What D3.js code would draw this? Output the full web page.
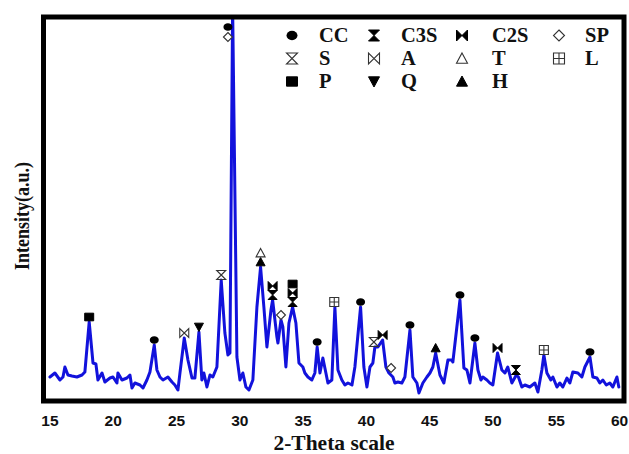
<!DOCTYPE html>
<html>
<head>
<meta charset="utf-8">
<script src="https://cdn.jsdelivr.net/npm/d3@7/dist/d3.min.js"></script>
<style>
  body { margin: 0; background: #fff; }
  svg { display: block; }
</style>
</head>
<body>
<svg id="chart" width="629" height="454"></svg>
<script>
// XRD scan: 2θ (degrees) and intensity (a.u.)
const twoTheta = [
  15.04, 15.43, 15.83, 16.07, 16.22, 16.46, 16.78, 17.17, 17.57, 17.80,
  18.14, 18.44, 18.67, 18.83, 19.15, 19.38, 19.78, 20.02, 20.33, 20.41,
  20.73, 21.12, 21.36, 21.52, 21.75, 22.15, 22.39, 22.70, 22.94, 23.28,
  23.49, 23.73, 23.97, 24.36, 24.68, 24.91, 25.15, 25.31, 25.65, 25.94,
  26.26, 26.49, 26.81, 27.04, 27.20, 27.44, 27.68, 27.91, 28.23, 28.57,
  28.86, 29.10, 29.26, 29.47, 29.81, 30.05, 30.28, 30.52, 30.76, 31.07,
  31.39, 31.68, 31.94, 32.18, 32.50, 32.63, 32.97, 33.05, 33.29, 33.44,
  33.68, 33.92, 34.21, 34.47, 34.71, 35.02, 35.18, 35.42, 35.73, 35.97,
  36.15, 36.37, 36.60, 36.84, 37.00, 37.31, 37.55, 37.79, 38.10, 38.34,
  38.58, 38.90, 39.13, 39.58, 39.84, 40.08, 40.32, 40.55, 40.71, 40.95,
  41.32, 41.58, 41.82, 42.13, 42.29, 42.53, 42.84, 43.08, 43.48, 43.71,
  44.03, 44.19, 44.50, 44.82, 45.06, 45.29, 45.51, 45.85, 46.16, 46.48,
  46.79, 46.87, 47.43, 47.74, 47.98, 48.22, 48.61, 48.85, 49.09, 49.24,
  49.56, 49.79, 50.03, 50.40, 50.74, 50.98, 51.21, 51.53, 51.88, 52.05,
  52.32, 52.56, 52.95, 53.35, 53.59, 53.90, 54.06, 54.30, 54.61, 54.77,
  55.09, 55.32, 55.56, 55.88, 56.11, 56.35, 56.75, 57.06, 57.30, 57.70,
  57.93, 58.25, 58.48, 58.72, 58.99, 59.27, 59.51, 59.83, 59.98
];
const intensity = [
  24, 28, 21, 24, 34, 26, 25, 24, 26, 29,
  79, 38, 37, 21, 28, 19, 23, 24, 18, 28,
  21, 23, 26, 13, 18, 16, 13, 21, 29, 56,
  31, 24, 21, 24, 19, 16, 11, 28, 63, 41,
  23, 23, 69, 21, 28, 14, 26, 24, 34, 121,
  68, 46, 48, 395, 44, 21, 28, 14, 11, 21,
  94, 134, 94, 54, 91, 101, 64, 58, 81, 74,
  34, 78, 94, 78, 38, 34, 28, 24, 21, 28,
  54, 28, 43, 28, 18, 21, 94, 31, 21, 16,
  18, 16, 34, 94, 34, 14, 34, 38, 54, 54,
  61, 34, 28, 24, 18, 19, 18, 24, 71, 24,
  18, 8, 18, 24, 28, 34, 48, 26, 18, 41,
  41, 39, 101, 33, 31, 18, 58, 31, 21, 24,
  21, 18, 16, 48, 31, 28, 34, 18, 26, 24,
  14, 16, 14, 18, 9, 31, 46, 28, 21, 24,
  14, 18, 14, 23, 18, 29, 28, 24, 34, 44,
  24, 23, 18, 21, 16, 18, 14, 24, 14
];
const xTicks = [15, 20, 25, 30, 35, 40, 45, 50, 55, 60];

// Phase legend, read row by row
const phases = ["CC", "C3S", "C2S", "SP", "S", "A", "T", "L", "P", "Q", "H"];

// Peak assignments: phase, 2θ of the reflection, stacking level above the peak
const peakPhase = ["P", "CC", "A", "Q", "S", "CC", "SP", "H", "T", "C3S", "C2S", "SP",
  "C3S", "C2S", "P", "CC", "L", "CC", "S", "C2S", "SP", "CC", "H", "CC", "CC",
  "C2S", "C3S", "L", "CC"];
const peakTheta = [18.14, 23.28, 25.65, 26.81, 28.57, 29.10, 29.10, 31.68, 31.68, 32.63, 32.63, 33.29,
  34.21, 34.21, 34.21, 36.15, 37.50, 39.58, 40.63, 41.32, 41.99, 43.48, 45.51, 47.43, 48.61,
  50.40, 51.85, 54.06, 57.70];
const peakLevel = [0, 0, 0, 0, 0, 0, 0, 0, 1, 0, 1, 0,
  0, 1, 2, 0, 0, 0, 0, 0, 0, 0, 0, 0, 0,
  0, 0, 0, 0];
// Labels for the off-scale main reflection sit beside it at a fixed height
const peakLabelHeight = [null, null, null, null, null, 374, 364, null, null, null, null, null,
  null, null, null, null, null, null, null, null, null, null, null, null, null,
  null, null, null, null];

const plot = { left: 43.5, right: 624, top: 17, bottom: 401 };

const svg = d3.select("#chart");

const x = d3.scaleLinear().domain([14.53, 60.39]).range([plot.left, plot.right]);
const y = d3.scaleLinear().domain([0, 384]).range([plot.bottom, plot.top]);

svg.append("defs").append("clipPath").attr("id", "plotClip")
  .append("rect")
  .attr("x", plot.left).attr("y", plot.top)
  .attr("width", plot.right - plot.left).attr("height", plot.bottom - plot.top);

// Diffraction pattern
const points = twoTheta.map((t, i) => [t, intensity[i]]);
svg.append("path")
  .datum(points)
  .attr("clip-path", "url(#plotClip)")
  .attr("fill", "none")
  .attr("stroke", "#1212dc")
  .attr("stroke-width", 3)
  .attr("stroke-linejoin", "round")
  .attr("stroke-linecap", "round")
  .attr("d", d3.line().x(d => x(d[0])).y(d => y(d[1])));

// Symbol shapes for each phase (s = half size)
function symbolPath(phase, s) {
  const p = d3.path();
  switch (phase) {
    case "C3S": // filled hourglass
    case "S":   // open hourglass
      p.moveTo(-s, -s); p.lineTo(s, -s); p.lineTo(-s, s); p.lineTo(s, s); p.closePath();
      break;
    case "C2S": // filled bow-tie
    case "A":   // open bow-tie
      p.moveTo(-s, -s); p.lineTo(-s, s); p.lineTo(s, -s); p.lineTo(s, s); p.closePath();
      break;
    case "SP":
      p.moveTo(0, -s); p.lineTo(s, 0); p.lineTo(0, s); p.lineTo(-s, 0); p.closePath();
      break;
    case "T":
    case "H":
      p.moveTo(0, -s); p.lineTo(s, s * 0.85); p.lineTo(-s, s * 0.85); p.closePath();
      break;
    case "Q":
      p.moveTo(-s, -s * 0.85); p.lineTo(s, -s * 0.85); p.lineTo(0, s); p.closePath();
      break;
    case "L":
      p.rect(-s, -s, 2 * s, 2 * s);
      p.moveTo(0, -s); p.lineTo(0, s); p.moveTo(-s, 0); p.lineTo(s, 0);
      break;
    case "P":
      p.rect(-s, -s * 0.85, 2 * s, 1.7 * s);
      break;
  }
  return p.toString();
}
const filled = new Set(["CC", "C3S", "C2S", "P", "Q", "H"]);

function drawSymbol(g, phase, s) {
  if (phase === "CC") {
    g.append("ellipse").attr("rx", s).attr("ry", s * 0.85).attr("fill", "#000");
    return;
  }
  const path = g.append("path").attr("d", symbolPath(phase, s));
  if (filled.has(phase)) {
    path.attr("fill", "#000").attr("stroke", "#000").attr("stroke-width", 1)
      .attr("stroke-linejoin", "miter");
  } else {
    path.attr("fill", phase === "L" || phase === "SP" || phase === "T" ? "#fff" : "none")
      .attr("stroke", "#333").attr("stroke-width", 1.1);
  }
}

// Local maximum of the pattern near a reflection
function peakTop(theta) {
  let best = 0;
  twoTheta.forEach((t, i) => {
    if (Math.abs(t - theta) <= 0.2 && intensity[i] > best) best = intensity[i];
  });
  return best;
}

const markers = svg.append("g");
peakPhase.forEach((ph, i) => {
  const cx = x(peakTheta[i]);
  const cy = peakLabelHeight[i] !== null
    ? y(peakLabelHeight[i])
    : y(peakTop(peakTheta[i])) - 5 - peakLevel[i] * 9;
  const g = markers.append("g").attr("transform", `translate(${cx},${cy})`);
  drawSymbol(g, ph, 4.5);
});

// Bottom axis labels (no tick marks)
const xAxis = d3.axisBottom(x).tickValues(xTicks).tickSize(0).tickPadding(14)
  .tickFormat(d3.format("d"));
const gx = svg.append("g").attr("transform", `translate(0,${plot.bottom})`).call(xAxis);
gx.select(".domain").remove();
gx.selectAll("text")
  .attr("font-family", "'Liberation Sans', Arial, sans-serif")
  .attr("font-weight", "bold")
  .attr("font-size", 15.5)
  .attr("fill", "#111");

// Frame
svg.append("rect")
  .attr("x", plot.left).attr("y", plot.top)
  .attr("width", plot.right - plot.left).attr("height", plot.bottom - plot.top)
  .attr("fill", "none").attr("stroke", "#000").attr("stroke-width", 5);

// Axis titles
svg.append("text")
  .attr("x", 334).attr("y", 450)
  .attr("text-anchor", "middle")
  .attr("font-family", "'Liberation Serif', 'Times New Roman', serif")
  .attr("font-weight", "bold").attr("font-size", 21.5).attr("fill", "#111")
  .text("2-Theta scale");

svg.append("text")
  .attr("transform", "translate(29,216) scale(1.2,1) rotate(-90)")
  .attr("text-anchor", "middle")
  .attr("font-family", "'Liberation Serif', 'Times New Roman', serif")
  .attr("font-weight", "bold").attr("font-size", 18).attr("fill", "#111")
  .text("Intensity(a.u.)");

// Legend: 4 columns x 3 rows
const colSym = [292, 374, 462, 559];
const colText = [319, 401, 492, 585];
const rowBase = [42, 65, 88];
const legend = svg.append("g");
phases.forEach((ph, i) => {
  const c = i % 4, r = Math.floor(i / 4);
  const g = legend.append("g").attr("transform", `translate(${colSym[c]},${rowBase[r] - 6.5})`);
  drawSymbol(g, ph, 5.5);
  legend.append("text")
    .attr("x", colText[c]).attr("y", rowBase[r])
    .attr("font-family", "'Liberation Serif', 'Times New Roman', serif")
    .attr("font-weight", "bold").attr("font-size", 20.5).attr("fill", "#111")
    .text(ph);
});
</script>
</body>
</html>
